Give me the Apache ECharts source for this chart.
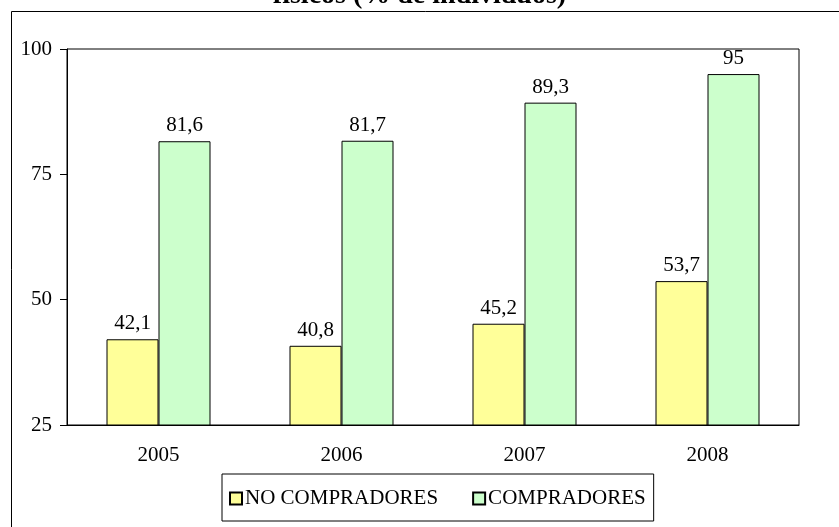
<!DOCTYPE html>
<html>
<head>
<meta charset="utf-8">
<script src="https://cdn.jsdelivr.net/npm/echarts@6/dist/echarts.min.js"></script>
<style>
  html, body { margin: 0; padding: 0; background: #fff; }
  #chart { width: 839px; height: 527px; }
</style>
</head>
<body>
<div id="chart"></div>
<script>
var years = ['2005', '2006', '2007', '2008'];
var noCompradores = [42.1, 40.8, 45.2, 53.7];
var compradores = [81.6, 81.7, 89.3, 95];
var seriesNames = ['NO COMPRADORES', 'COMPRADORES'];

var serif = '"Liberation Serif", "DejaVu Serif", serif';

// 42.1 -> "42,1"
function fmtComma(p) {
  return String(p.value).replace('.', ',');
}

var myChart = echarts.init(document.getElementById('chart'));

var option = {
  backgroundColor: '#fff',
  animation: false,
  title: {
    text: 'físicos (% de individuos)',
    left: 'center',
    top: -23,
    textStyle: { fontFamily: serif, fontSize: 28, fontWeight: 'bold', color: '#000' }
  },
  graphic: [{
    type: 'rect',
    shape: { x: 11.5, y: 11.5, width: 900, height: 600 },
    style: { fill: 'none', stroke: '#000', lineWidth: 1 }
  }],
  grid: {
    left: 67, right: 40, top: 49, bottom: 102,
    show: true, borderColor: '#000', borderWidth: 1
  },
  legend: {
    data: seriesNames,
    left: 222, top: 474,
    padding: [14, 8, 12, 7],
    itemWidth: 12, itemHeight: 12, itemGap: 34,
    borderColor: '#000', borderWidth: 1,
    icon: 'rect',
    textStyle: { fontFamily: serif, fontSize: 21, color: '#000', padding: [0, 0, 0, -2] }
  },
  xAxis: {
    type: 'category',
    data: years,
    axisLine: { lineStyle: { color: '#000' } },
    axisTick: { length: 7, lineStyle: { color: '#000' } },
    axisLabel: { fontFamily: serif, fontSize: 21, color: '#000', margin: 20 }
  },
  yAxis: {
    type: 'value',
    min: 25, max: 100, interval: 25,
    axisLine: { show: true, lineStyle: { color: '#000' } },
    axisTick: { show: true, length: 7, lineStyle: { color: '#000' } },
    axisLabel: { fontFamily: serif, fontSize: 21, color: '#000', margin: 15 },
    splitLine: { show: false }
  },
  series: [{
    name: seriesNames[0],
    type: 'bar',
    data: noCompradores,
    barWidth: 52,
    barGap: '0%',
    itemStyle: { color: '#FFFF99', borderColor: '#000', borderWidth: 1 },
    label: { show: true, position: 'top', distance: 5, formatter: fmtComma,
      fontFamily: serif, fontSize: 21, color: '#000' }
  }, {
    name: seriesNames[1],
    type: 'bar',
    data: compradores,
    barWidth: 52,
    itemStyle: { color: '#CCFFCC', borderColor: '#000', borderWidth: 1 },
    label: { show: true, position: 'top', distance: 5, formatter: fmtComma,
      fontFamily: serif, fontSize: 21, color: '#000' }
  }]
};

myChart.setOption(option);
</script>
</body>
</html>
